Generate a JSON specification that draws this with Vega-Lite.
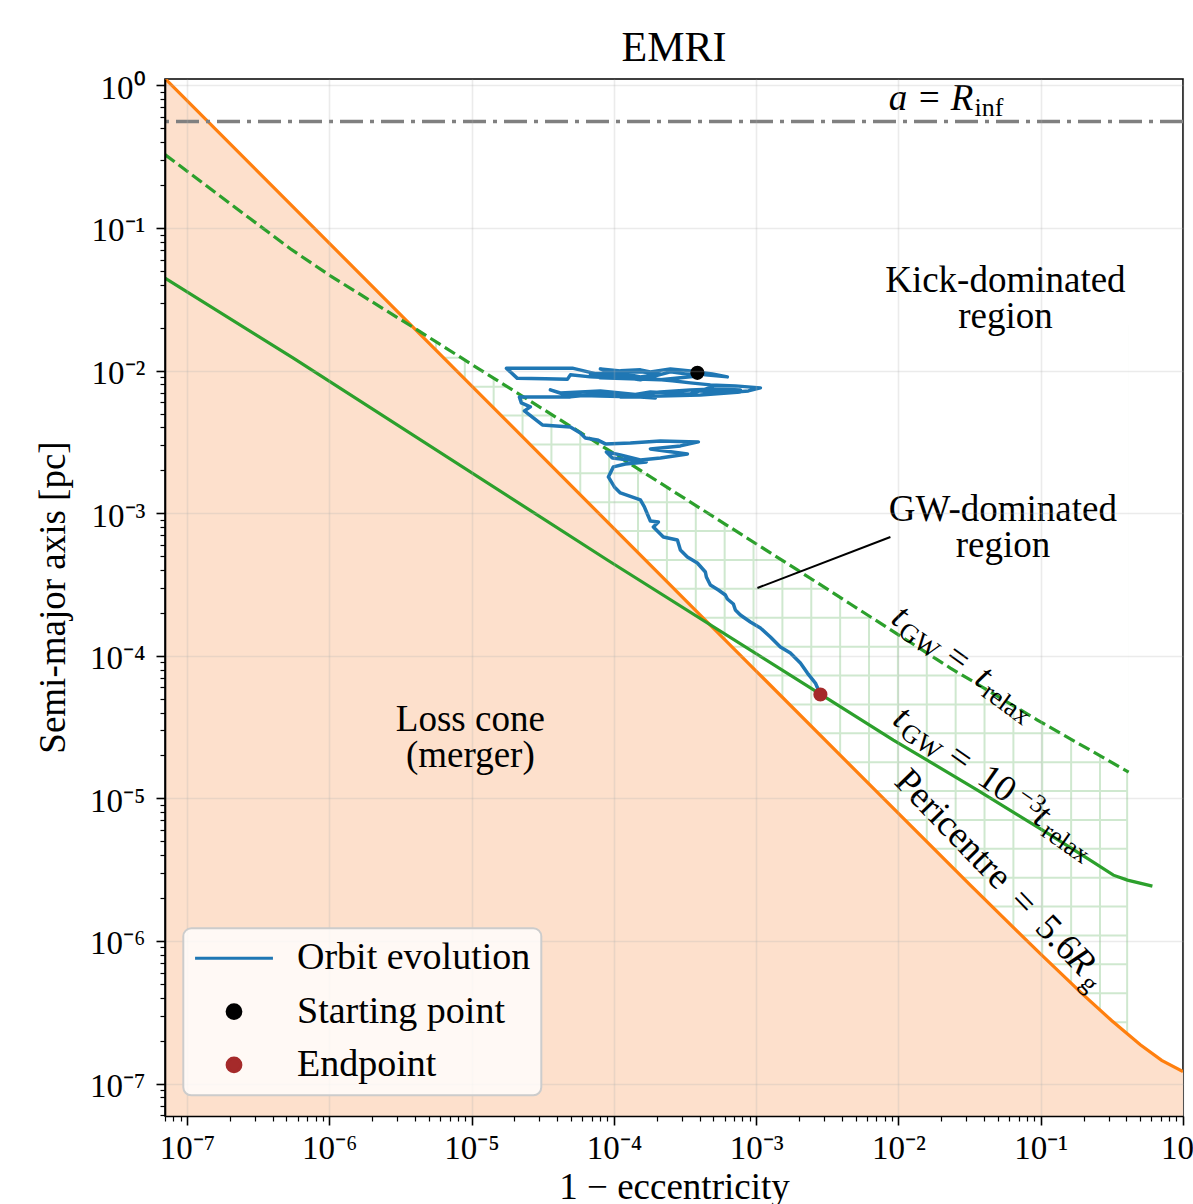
{
  "$schema": "https://vega.github.io/schema/vega-lite/v6.json",
  "width": 1018,
  "height": 1037,
  "autosize": "none",
  "padding": {"left": 165, "top": 79, "right": 10, "bottom": 88},
  "background": "white",
  "config": {
    "font": "Liberation Serif",
    "view": {"stroke": "black", "strokeWidth": 1.6}
  },
  "title": {"text": "EMRI", "font": "Liberation Serif", "fontSize": 42, "fontWeight": "normal", "color": "black", "anchor": "middle", "baseline": "alphabetic", "offset": 15, "dy": 46, "frame": "group"},
  "resolve": {"axis": {"x": "independent", "y": "independent"}},
  "datasets": {
    "hatchV": [{"x":3.518e-6},{"x":5.614e-6},{"x":8.958e-6},{"x":1.429e-5},{"x":2.281e-5},{"x":3.639e-5},{"x":5.806e-5},{"x":9.266e-5},{"x":1.478e-4},{"x":2.359e-4},{"x":3.764e-4},{"x":6.006e-4},{"x":9.583e-4},{"x":1.529e-3},{"x":2.440e-3},{"x":3.893e-3},{"x":6.213e-3},{"x":9.913e-3},{"x":1.582e-2},{"x":2.524e-2},{"x":4.027e-2},{"x":6.426e-2},{"x":1.025e-1},{"x":1.636e-1},{"x":2.610e-1},{"x":4.05e-1}],
    "hatchH": [{"y":1.961e-2},{"y":1.230e-2},{"y":7.714e-3},{"y":4.838e-3},{"y":3.034e-3},{"y":1.904e-3},{"y":1.194e-3},{"y":7.488e-4},{"y":4.697e-4},{"y":2.946e-4},{"y":1.848e-4},{"y":1.159e-4},{"y":7.269e-5},{"y":4.559e-5},{"y":2.860e-5},{"y":1.794e-5},{"y":1.125e-5},{"y":7.056e-6},{"y":4.426e-6},{"y":2.776e-6},{"y":1.741e-6},{"y":1.092e-6},{"y":6.850e-7},{"y":4.297e-7},{"y":2.695e-7}],
    "orange": [{"x":7.0e-8,"y":1.117},{"x":1e-5,"y":7.816e-3},{"x":1e-3,"y":7.816e-5},{"x":1e-2,"y":7.834e-6},{"x":3.162e-2,"y":2.495e-6},{"x":0.1,"y":8.072e-7},{"x":0.1995,"y":4.188e-7},{"x":0.3162,"y":2.754e-7},{"x":0.5012,"y":1.871e-7},{"x":0.7079,"y":1.454e-7},{"x":1.0,"y":1.211e-7}],
    "dashed": [{"x":7.0e-8,"y":0.327},{"x":2.786e-7,"y":0.116},{"x":5.322e-7,"y":7.146e-2},{"x":1.017e-6,"y":4.619e-2},{"x":3.833e-6,"y":2.027e-2},{"x":1.152e-5,"y":1.012e-2},{"x":9.0e-5,"y":2.8e-3},{"x":1.949e-3,"y":3.997e-4},{"x":4.595e-3,"y":2.307e-4},{"x":2.318e-2,"y":8.204e-5},{"x":9.478e-2,"y":3.54e-5},{"x":0.415,"y":1.529e-5}],
    "solid": [{"x":7.0e-8,"y":4.451e-2},{"x":5.587e-7,"y":1.222e-2},{"x":9.0e-5,"y":4.697e-4},{"x":2.828e-3,"y":5.389e-5},{"x":9.215e-3,"y":2.564e-5},{"x":3.589e-2,"y":1.143e-5},{"x":0.1114,"y":5.705e-6},{"x":0.2062,"y":3.871e-6},{"x":0.3243,"y":2.894e-6},{"x":0.4068,"y":2.67e-6},{"x":0.6095,"y":2.423e-6}],
    "orbit": [
      {"i":0,"x":3.862e-4,"y":9.638e-3},{"i":1,"x":4.396e-4,"y":9.333e-3},{"i":2,"x":6.276e-4,"y":9.035e-3},{"i":3,"x":4.923e-4,"y":9.484e-3},{"i":4,"x":3.449e-4,"y":9.954e-3},
      {"i":5,"x":2.495e-4,"y":1.028e-2},{"i":6,"x":1.805e-4,"y":9.795e-3},{"i":7,"x":1.536e-4,"y":1.0116e-2},{"i":8,"x":1.111e-4,"y":9.954e-3},{"i":9,"x":8.037e-5,"y":1.028e-2},
      {"i":9.1,"x":1.024e-4,"y":9.333e-3},{"i":9.2,"x":1.536e-4,"y":9.035e-3},{"i":9.3,"x":2.123e-4,"y":9.484e-3},{"i":9.4,"x":1.536e-4,"y":9.795e-3},{"i":9.5,"x":1.024e-4,"y":9.638e-3},{"i":9.6,"x":6.837e-5,"y":9.484e-3},
      {"i":9.61,"x":8.037e-5,"y":8.891e-3},{"i":9.62,"x":2.123e-4,"y":8.609e-3},{"i":9.63,"x":4.055e-4,"y":9.183e-3},{"i":9.64,"x":2.495e-4,"y":9.795e-3},{"i":9.65,"x":1.536e-4,"y":8.609e-3},{"i":9.66,"x":8.037e-5,"y":9.333e-3},
      {"i":10,"x":5.108e-5,"y":1.040e-2},{"i":11,"x":3.042e-5,"y":1.040e-2},{"i":12,"x":1.755e-5,"y":1.040e-2},{"i":13,"x":2.097e-5,"y":8.820e-3},{"i":14,"x":3.299e-5,"y":8.749e-3},
      {"i":15,"x":4.711e-5,"y":8.679e-3},{"i":16,"x":4.945e-5,"y":9.333e-3},{"i":17,"x":6.837e-5,"y":9.035e-3},{"i":18,"x":9.448e-5,"y":8.891e-3},{"i":19,"x":1.306e-4,"y":9.333e-3},
      {"i":20,"x":1.805e-4,"y":8.749e-3},{"i":21,"x":2.578e-4,"y":8.471e-3},{"i":22,"x":3.449e-4,"y":8.201e-3},{"i":23,"x":4.766e-4,"y":7.939e-3},{"i":24,"x":7.145e-4,"y":7.812e-3},
      {"i":25,"x":1.071e-3,"y":7.564e-3},
      {"i":25.1,"x":8.816e-4,"y":7.205e-3},{"i":25.2,"x":6.076e-4,"y":6.977e-3},{"i":25.3,"x":4.055e-4,"y":7.205e-3},{"i":25.4,"x":4.923e-4,"y":7.687e-3},
      {"i":25.5,"x":3.449e-4,"y":6.865e-3},{"i":25.51,"x":1.805e-4,"y":7.090e-3},{"i":25.52,"x":1.111e-4,"y":6.540e-3},{"i":25.53,"x":2.123e-4,"y":6.646e-3},{"i":25.54,"x":4.055e-4,"y":6.754e-3},{"i":25.55,"x":7.745e-4,"y":7.090e-3},
      {"i":26,"x":7.745e-4,"y":7.322e-3},{"i":27,"x":5.168e-4,"y":7.441e-3},{"i":28,"x":3.449e-4,"y":7.322e-3},{"i":29,"x":2.123e-4,"y":7.090e-3},
      {"i":30,"x":1.536e-4,"y":6.754e-3},{"i":31,"x":1.111e-4,"y":6.977e-3},{"i":32,"x":8.037e-5,"y":7.205e-3},{"i":33,"x":5.813e-5,"y":7.090e-3},{"i":34,"x":4.207e-5,"y":6.977e-3},
      {"i":35,"x":3.577e-5,"y":7.322e-3},{"i":36,"x":4.561e-5,"y":6.754e-3},{"i":37,"x":8.037e-5,"y":6.646e-3},{"i":38,"x":1.536e-4,"y":6.540e-3},{"i":39,"x":1.957e-4,"y":6.435e-3},
      {"i":40,"x":1.306e-4,"y":6.646e-3},{"i":41,"x":8.037e-5,"y":6.865e-3},{"i":42,"x":4.945e-5,"y":6.540e-3},{"i":43,"x":3.577e-5,"y":6.540e-3},{"i":44,"x":2.166e-5,"y":6.540e-3},
      {"i":45,"x":2.237e-5,"y":5.935e-3},{"i":46,"x":2.588e-5,"y":5.565e-3},{"i":47,"x":2.349e-5,"y":5.217e-3},{"i":48,"x":3.143e-5,"y":4.160e-3},{"i":49,"x":4.945e-5,"y":4.029e-3},
      {"i":50,"x":5.813e-5,"y":3.656e-3},{"i":51,"x":6.304e-5,"y":3.372e-3},{"i":52,"x":7.656e-5,"y":3.265e-3},{"i":53,"x":8.716e-5,"y":3.060e-3},{"i":54,"x":1.306e-4,"y":3.110e-3},
      {"i":55,"x":2.123e-4,"y":3.213e-3},{"i":56,"x":3.925e-4,"y":3.161e-3},{"i":57,"x":2.934e-4,"y":2.963e-3},{"i":58,"x":1.805e-4,"y":2.823e-3},{"i":59,"x":3.286e-4,"y":2.604e-3},
      {"i":60,"x":2.123e-4,"y":2.440e-3},{"i":61,"x":1.536e-4,"y":2.363e-3},{"i":62,"x":1.111e-4,"y":2.563e-3},{"i":63,"x":8.858e-5,"y":2.689e-3},{"i":64,"x":9.759e-5,"y":2.440e-3},
      {"i":65,"x":1.692e-4,"y":2.288e-3},{"i":66,"x":1.204e-4,"y":2.215e-3},{"i":67,"x":9.918e-5,"y":2.111e-3},{"i":68,"x":9.147e-5,"y":1.796e-3},{"i":69,"x":1.008e-4,"y":1.528e-3},
      {"i":70,"x":1.111e-4,"y":1.387e-3},{"i":71,"x":1.536e-4,"y":1.238e-3},{"i":72,"x":1.638e-4,"y":1.106e-3},{"i":73,"x":1.719e-4,"y":9.877e-4},{"i":74,"x":1.805e-4,"y":8.820e-4},
      {"i":75,"x":2.055e-4,"y":8.679e-4},{"i":76,"x":1.895e-4,"y":8.007e-4},{"i":77,"x":2.228e-4,"y":6.810e-4},{"i":78,"x":2.795e-4,"y":6.488e-4},{"i":79,"x":2.934e-4,"y":5.521e-4},
      {"i":80,"x":3.286e-4,"y":4.931e-4},{"i":81,"x":3.862e-4,"y":4.474e-4},{"i":82,"x":4.396e-4,"y":3.869e-4},{"i":83,"x":4.468e-4,"y":3.568e-4},{"i":84,"x":4.766e-4,"y":3.136e-4},
      {"i":85,"x":5.425e-4,"y":2.893e-4},{"i":86,"x":6.076e-4,"y":2.669e-4},{"i":87,"x":6.276e-4,"y":2.502e-4},{"i":88,"x":6.917e-4,"y":2.307e-4},{"i":89,"x":7.145e-4,"y":2.094e-4},
      {"i":90,"x":7.745e-4,"y":1.932e-4},{"i":91,"x":9.107e-4,"y":1.725e-4},{"i":92,"x":1.071e-3,"y":1.566e-4},{"i":93,"x":1.259e-3,"y":1.354e-4},{"i":94,"x":1.480e-3,"y":1.152e-4},
      {"i":95,"x":1.740e-3,"y":1.045e-4},{"i":96,"x":2.046e-3,"y":8.892e-5},{"i":97,"x":2.292e-3,"y":7.566e-5},{"i":98,"x":2.608e-3,"y":6.437e-5},{"i":99,"x":2.828e-3,"y":5.346e-5}
    ],
    "start": [{"x":3.862e-4,"y":9.638e-3}],
    "end": [{"x":2.828e-3,"y":5.346e-5}],
    "pointer": [{"x":1.020e-3,"y":2.988e-4,"x2":8.780e-3,"y2":6.810e-4}],
    "texts": [
      {"g":"ann","label":"Kick-dominated\nregion","x":5.647e-2,"y":3.567e-2},
      {"g":"ann","label":"GW-dominated\nregion","x":5.423e-2,"y":8.820e-4},
      {"g":"ann","label":"Loss cone\n(merger)","x":9.801e-6,"y":2.964e-5},
      {"g":"rit","label":"a = R","x":3.363e-2,"y":0.6677},
      {"g":"rsb","label":"inf","x":3.419e-2,"y":0.6058},
      {"g":"l1it","label":"t","x":8.640e-3,"y":1.734e-4},
      {"g":"l1it","label":"t","x":3.337e-2,"y":6.501e-5},
      {"g":"l1rm","label":"=","x":2.057e-2,"y":9.231e-5},
      {"g":"l1sb","label":"GW","x":9.739e-3,"y":1.409e-4},
      {"g":"l1sb","label":"relax","x":3.767e-2,"y":5.286e-5},
      {"g":"l2it","label":"t","x":8.851e-3,"y":3.374e-5},
      {"g":"l2it","label":"t","x":8.654e-2,"y":6.846e-6},
      {"g":"l2rm","label":"=","x":2.131e-2,"y":1.826e-5},
      {"g":"l2rm","label":"10","x":3.474e-2,"y":1.296e-5},
      {"g":"l2sb","label":"GW","x":1.001e-2,"y":2.748e-5},
      {"g":"l2sb","label":"−3","x":6.723e-2,"y":9.944e-6},
      {"g":"l2sb","label":"relax","x":9.852e-2,"y":5.560e-6},
      {"g":"l3rm","label":"Pericentre","x":9.143e-3,"y":1.280e-5},
      {"g":"l3rm","label":"=","x":5.888e-2,"y":1.865e-6},
      {"g":"l3rm","label":"5.6","x":8.925e-2,"y":1.215e-6},
      {"g":"l3it","label":"R","x":0.1474,"y":7.224e-7},
      {"g":"l3sb","label":"g","x":0.1855,"y":4.956e-7}
    ]
  },
  "layer": [
    {
      "data": {"name": "hatchV"},
      "mark": {"type": "rule", "color": "#cfe8cf", "strokeWidth": 2, "clip": true},
      "encoding": {
        "x": {"field": "x", "type": "quantitative", "scale": {"type": "log", "domain": [7e-8, 1], "nice": false}, "axis": null},
        "y": {"datum": 1.9e-7, "type": "quantitative", "scale": {"type": "log", "domain": [5.92e-8, 1.109], "nice": false}, "axis": null},
        "y2": {"datum": 2.1e-2}
      }
    },
    {
      "data": {"name": "hatchH"},
      "mark": {"type": "rule", "color": "#cfe8cf", "strokeWidth": 2, "clip": true},
      "encoding": {
        "y": {"field": "y", "type": "quantitative", "scale": {"type": "log", "domain": [5.92e-8, 1.109], "nice": false}, "axis": null},
        "x": {"datum": 3.5e-6, "type": "quantitative", "scale": {"type": "log", "domain": [7e-8, 1], "nice": false}, "axis": null},
        "x2": {"datum": 0.406}
      }
    },
    {
      "data": {"name": "dashed"},
      "transform": [{"filter": "datum.x >= 3.8e-6"}],
      "mark": {"type": "area", "color": "white", "opacity": 1, "clip": true},
      "encoding": {
        "x": {"field": "x", "type": "quantitative", "scale": {"type": "log", "domain": [7e-8, 1], "nice": false}, "axis": null},
        "y": {"field": "y", "type": "quantitative", "scale": {"type": "log", "domain": [5.92e-8, 1.109], "nice": false}, "axis": null},
        "y2": {"datum": 0.025}
      }
    },
    {
      "data": {"name": "orange"},
      "mark": {"type": "area", "color": "#fde0cc", "opacity": 1, "clip": true},
      "encoding": {
        "x": {"field": "x", "type": "quantitative", "scale": {"type": "log", "domain": [7e-8, 1], "nice": false},
          "axis": {"orient": "bottom", "title": null, "labels": false, "domain": false, "grid": false, "tickSize": 5, "tickWidth": 1.2, "tickColor": "black", "zindex": 1,
            "values": [7e-8,8e-8,9e-8,2e-7,3e-7,4e-7,5e-7,6e-7,7e-7,8e-7,9e-7,2e-6,3e-6,4e-6,5e-6,6e-6,7e-6,8e-6,9e-6,2e-5,3e-5,4e-5,5e-5,6e-5,7e-5,8e-5,9e-5,2e-4,3e-4,4e-4,5e-4,6e-4,7e-4,8e-4,9e-4,2e-3,3e-3,4e-3,5e-3,6e-3,7e-3,8e-3,9e-3,2e-2,3e-2,4e-2,5e-2,6e-2,7e-2,8e-2,9e-2,0.2,0.3,0.4,0.5,0.6,0.7,0.8,0.9]}},
        "y": {"field": "y", "type": "quantitative", "scale": {"type": "log", "domain": [5.92e-8, 1.109], "nice": false},
          "axis": {"orient": "left", "title": null, "labels": false, "domain": false, "grid": false, "tickSize": 5, "tickWidth": 1.2, "tickColor": "black", "zindex": 1,
            "values": [6e-8,7e-8,8e-8,9e-8,2e-7,3e-7,4e-7,5e-7,6e-7,7e-7,8e-7,9e-7,2e-6,3e-6,4e-6,5e-6,6e-6,7e-6,8e-6,9e-6,2e-5,3e-5,4e-5,5e-5,6e-5,7e-5,8e-5,9e-5,2e-4,3e-4,4e-4,5e-4,6e-4,7e-4,8e-4,9e-4,2e-3,3e-3,4e-3,5e-3,6e-3,7e-3,8e-3,9e-3,2e-2,3e-2,4e-2,5e-2,6e-2,7e-2,8e-2,9e-2,0.2,0.3,0.4,0.5,0.6,0.7,0.8,0.9]}},
        "y2": {"datum": 5.92e-8}
      }
    },
    {
      "data": {"name": "orange"},
      "mark": {"type": "line", "color": "#ff7f0e", "strokeWidth": 3.2, "clip": true},
      "encoding": {
        "x": {"field": "x", "type": "quantitative", "scale": {"type": "log", "domain": [7e-8, 1], "nice": false},
          "axis": {
            "orient": "bottom",
            "title": "1 − eccentricity", "titleFont": "Liberation Serif", "titleFontSize": 37, "titleFontWeight": "normal", "titleColor": "black",
            "titleX": 509, "titleY": 82.5, "titleBaseline": "alphabetic", "titleAlign": "center",
            "values": [1e-7,1e-6,1e-5,1e-4,1e-3,1e-2,0.1,1],
            "labelExpr": "'10' + (round(log(datum.value)/LN10) < 0 ? '⁻' : '') + ['⁰','¹','²','³','⁴','⁵','⁶','⁷','⁸','⁹'][abs(round(log(datum.value)/LN10))]",
            "labelFont": "Liberation Serif", "labelFontSize": 33, "labelColor": "black", "labelOverlap": false, "labelFlush": false, "labelBound": false, "labelPadding": 7,
            "tickSize": 9, "tickWidth": 1.6, "tickColor": "black",
            "grid": true, "gridColor": "#b0b0b0", "gridWidth": 1.6, "gridOpacity": 0.25,
            "domainColor": "black", "domainWidth": 1.6, "zindex": 1
          }
        },
        "y": {"field": "y", "type": "quantitative", "scale": {"type": "log", "domain": [5.92e-8, 1.109], "nice": false},
          "axis": {
            "orient": "left",
            "title": "Semi-major axis [pc]", "titleFont": "Liberation Serif", "titleFontSize": 37, "titleFontWeight": "normal", "titleColor": "black",
            "titleX": -101, "titleY": 518, "titleAngle": -90, "titleBaseline": "alphabetic", "titleAlign": "center",
            "values": [1e-7,1e-6,1e-5,1e-4,1e-3,1e-2,0.1,1],
            "labelExpr": "'10' + (round(log(datum.value)/LN10) < 0 ? '⁻' : '') + ['⁰','¹','²','³','⁴','⁵','⁶','⁷','⁸','⁹'][abs(round(log(datum.value)/LN10))]",
            "labelFont": "Liberation Serif", "labelFontSize": 33, "labelColor": "black", "labelOverlap": false, "labelFlush": false, "labelBound": false, "labelPadding": 11, "labelOffset": 3,
            "tickSize": 9, "tickWidth": 1.6, "tickColor": "black",
            "grid": true, "gridColor": "#b0b0b0", "gridWidth": 1.6, "gridOpacity": 0.25,
            "domainColor": "black", "domainWidth": 1.6, "zindex": 1
          }
        }
      }
    },
    {
      "data": {"name": "dashed"},
      "mark": {"type": "line", "color": "#2ca02c", "strokeWidth": 3.2, "strokeDash": [12, 5], "clip": true},
      "encoding": {
        "x": {"field": "x", "type": "quantitative", "scale": {"type": "log", "domain": [7e-8, 1], "nice": false}, "axis": null},
        "y": {"field": "y", "type": "quantitative", "scale": {"type": "log", "domain": [5.92e-8, 1.109], "nice": false}, "axis": null}
      }
    },
    {
      "data": {"name": "solid"},
      "mark": {"type": "line", "color": "#2ca02c", "strokeWidth": 3.2, "clip": true},
      "encoding": {
        "x": {"field": "x", "type": "quantitative", "scale": {"type": "log", "domain": [7e-8, 1], "nice": false}, "axis": null},
        "y": {"field": "y", "type": "quantitative", "scale": {"type": "log", "domain": [5.92e-8, 1.109], "nice": false}, "axis": null}
      }
    },
    {
      "data": {"values": [{}]},
      "mark": {"type": "rule", "color": "#808080", "strokeWidth": 3.5, "strokeDash": [23, 7, 4, 7]},
      "encoding": {
        "y": {"datum": 0.5588, "type": "quantitative", "scale": {"type": "log", "domain": [5.92e-8, 1.109], "nice": false}, "axis": null}
      }
    },
    {
      "data": {"name": "pointer"},
      "mark": {"type": "rule", "color": "black", "strokeWidth": 2},
      "encoding": {
        "x": {"field": "x", "type": "quantitative", "scale": {"type": "log", "domain": [7e-8, 1], "nice": false}, "axis": null},
        "y": {"field": "y", "type": "quantitative", "scale": {"type": "log", "domain": [5.92e-8, 1.109], "nice": false}, "axis": null},
        "x2": {"field": "x2"},
        "y2": {"field": "y2"}
      }
    },
    {
      "data": {"name": "orbit"},
      "mark": {"type": "line", "strokeWidth": 3.5, "strokeJoin": "round", "clip": true},
      "encoding": {
        "x": {"field": "x", "type": "quantitative", "scale": {"type": "log", "domain": [7e-8, 1], "nice": false}, "axis": null},
        "y": {"field": "y", "type": "quantitative", "scale": {"type": "log", "domain": [5.92e-8, 1.109], "nice": false}, "axis": null},
        "order": {"field": "i", "type": "quantitative"},
        "color": {"datum": "Orbit evolution", "type": "nominal",
          "scale": {"domain": ["Orbit evolution", "Starting point", "Endpoint"], "range": ["#1f77b4", "black", "#a52a2a"]},
          "legend": {
            "title": null, "orient": "none", "legendX": 18.3, "legendY": 849.3, "direction": "vertical", "zindex": 2,
            "fillColor": "rgba(255,255,255,0.8)", "strokeColor": "#cccccc", "cornerRadius": 8, "padding": 11,
            "labelFont": "Liberation Serif", "labelFontSize": 38, "labelColor": "black", "labelLimit": 500,
            "symbolSize": 190, "symbolStrokeWidth": 3, "symbolOffset": 20.7, "labelOffset": 44, "rowPadding": 15.3,
            "encode": {
              "legend": {"update": {"strokeWidth": {"value": 2}}},
              "symbols": {"update": {
                "shape": {"signal": "datum.value === 'Orbit evolution' ? 'M-5.65,0H5.65' : 'circle'"},
                "fill": {"signal": "datum.value === 'Starting point' ? 'black' : (datum.value === 'Endpoint' ? '#a52a2a' : 'transparent')"},
                "stroke": {"signal": "datum.value === 'Orbit evolution' ? '#1f77b4' : 'transparent'"},
                "strokeWidth": {"value": 3},
                "size": {"value": 190},
                "opacity": {"value": 1}
              }}
            }
          }
        }
      }
    },
    {
      "data": {"name": "start"},
      "mark": {"type": "point", "filled": true, "size": 200, "opacity": 1, "shape": "circle"},
      "encoding": {
        "x": {"field": "x", "type": "quantitative", "scale": {"type": "log", "domain": [7e-8, 1], "nice": false}, "axis": null},
        "y": {"field": "y", "type": "quantitative", "scale": {"type": "log", "domain": [5.92e-8, 1.109], "nice": false}, "axis": null},
        "color": {"datum": "Starting point", "type": "nominal", "scale": {"domain": ["Orbit evolution", "Starting point", "Endpoint"], "range": ["#1f77b4", "black", "#a52a2a"]}, "legend": null}
      }
    },
    {
      "data": {"name": "end"},
      "mark": {"type": "point", "filled": true, "size": 200, "opacity": 1, "shape": "circle"},
      "encoding": {
        "x": {"field": "x", "type": "quantitative", "scale": {"type": "log", "domain": [7e-8, 1], "nice": false}, "axis": null},
        "y": {"field": "y", "type": "quantitative", "scale": {"type": "log", "domain": [5.92e-8, 1.109], "nice": false}, "axis": null},
        "color": {"datum": "Endpoint", "type": "nominal", "scale": {"domain": ["Orbit evolution", "Starting point", "Endpoint"], "range": ["#1f77b4", "black", "#a52a2a"]}, "legend": null}
      }
    },
    {
      "data": {"name": "texts"},
      "transform": [{"filter": "datum.g === 'ann'"}],
      "mark": {"type": "text", "font": "Liberation Serif", "fontSize": 37, "align": "center", "baseline": "alphabetic", "lineBreak": "\n", "lineHeight": 36, "color": "black"},
      "encoding": {
        "x": {"field": "x", "type": "quantitative", "scale": {"type": "log", "domain": [7e-8, 1], "nice": false}, "axis": null},
        "y": {"field": "y", "type": "quantitative", "scale": {"type": "log", "domain": [5.92e-8, 1.109], "nice": false}, "axis": null},
        "text": {"field": "label"}
      }
    },
    {
      "data": {"name": "texts"},
      "transform": [{"filter": "datum.g === 'rit'"}],
      "mark": {"type": "text", "font": "Liberation Serif", "fontSize": 37, "fontStyle": "italic", "align": "right", "baseline": "alphabetic", "color": "black"},
      "encoding": {
        "x": {"field": "x", "type": "quantitative", "scale": {"type": "log", "domain": [7e-8, 1], "nice": false}, "axis": null},
        "y": {"field": "y", "type": "quantitative", "scale": {"type": "log", "domain": [5.92e-8, 1.109], "nice": false}, "axis": null},
        "text": {"field": "label"}
      }
    },
    {
      "data": {"name": "texts"},
      "transform": [{"filter": "datum.g === 'rsb'"}],
      "mark": {"type": "text", "font": "Liberation Serif", "fontSize": 26, "align": "left", "baseline": "alphabetic", "color": "black"},
      "encoding": {
        "x": {"field": "x", "type": "quantitative", "scale": {"type": "log", "domain": [7e-8, 1], "nice": false}, "axis": null},
        "y": {"field": "y", "type": "quantitative", "scale": {"type": "log", "domain": [5.92e-8, 1.109], "nice": false}, "axis": null},
        "text": {"field": "label"}
      }
    },
    {
      "data": {"name": "texts"},
      "transform": [{"filter": "datum.g === 'l1it'"}],
      "mark": {"type": "text", "font": "Liberation Serif", "fontSize": 37, "fontStyle": "italic", "angle": 36, "align": "left", "baseline": "alphabetic", "color": "black"},
      "encoding": {
        "x": {"field": "x", "type": "quantitative", "scale": {"type": "log", "domain": [7e-8, 1], "nice": false}, "axis": null},
        "y": {"field": "y", "type": "quantitative", "scale": {"type": "log", "domain": [5.92e-8, 1.109], "nice": false}, "axis": null},
        "text": {"field": "label"}
      }
    },
    {
      "data": {"name": "texts"},
      "transform": [{"filter": "datum.g === 'l1rm'"}],
      "mark": {"type": "text", "font": "Liberation Serif", "fontSize": 37, "angle": 36, "align": "left", "baseline": "alphabetic", "color": "black"},
      "encoding": {
        "x": {"field": "x", "type": "quantitative", "scale": {"type": "log", "domain": [7e-8, 1], "nice": false}, "axis": null},
        "y": {"field": "y", "type": "quantitative", "scale": {"type": "log", "domain": [5.92e-8, 1.109], "nice": false}, "axis": null},
        "text": {"field": "label"}
      }
    },
    {
      "data": {"name": "texts"},
      "transform": [{"filter": "datum.g === 'l1sb'"}],
      "mark": {"type": "text", "font": "Liberation Serif", "fontSize": 26, "angle": 36, "align": "left", "baseline": "alphabetic", "color": "black"},
      "encoding": {
        "x": {"field": "x", "type": "quantitative", "scale": {"type": "log", "domain": [7e-8, 1], "nice": false}, "axis": null},
        "y": {"field": "y", "type": "quantitative", "scale": {"type": "log", "domain": [5.92e-8, 1.109], "nice": false}, "axis": null},
        "text": {"field": "label"}
      }
    },
    {
      "data": {"name": "texts"},
      "transform": [{"filter": "datum.g === 'l2it'"}],
      "mark": {"type": "text", "font": "Liberation Serif", "fontSize": 37, "fontStyle": "italic", "angle": 35, "align": "left", "baseline": "alphabetic", "color": "black"},
      "encoding": {
        "x": {"field": "x", "type": "quantitative", "scale": {"type": "log", "domain": [7e-8, 1], "nice": false}, "axis": null},
        "y": {"field": "y", "type": "quantitative", "scale": {"type": "log", "domain": [5.92e-8, 1.109], "nice": false}, "axis": null},
        "text": {"field": "label"}
      }
    },
    {
      "data": {"name": "texts"},
      "transform": [{"filter": "datum.g === 'l2rm'"}],
      "mark": {"type": "text", "font": "Liberation Serif", "fontSize": 37, "angle": 35, "align": "left", "baseline": "alphabetic", "color": "black"},
      "encoding": {
        "x": {"field": "x", "type": "quantitative", "scale": {"type": "log", "domain": [7e-8, 1], "nice": false}, "axis": null},
        "y": {"field": "y", "type": "quantitative", "scale": {"type": "log", "domain": [5.92e-8, 1.109], "nice": false}, "axis": null},
        "text": {"field": "label"}
      }
    },
    {
      "data": {"name": "texts"},
      "transform": [{"filter": "datum.g === 'l2sb'"}],
      "mark": {"type": "text", "font": "Liberation Serif", "fontSize": 26, "angle": 35, "align": "left", "baseline": "alphabetic", "color": "black"},
      "encoding": {
        "x": {"field": "x", "type": "quantitative", "scale": {"type": "log", "domain": [7e-8, 1], "nice": false}, "axis": null},
        "y": {"field": "y", "type": "quantitative", "scale": {"type": "log", "domain": [5.92e-8, 1.109], "nice": false}, "axis": null},
        "text": {"field": "label"}
      }
    },
    {
      "data": {"name": "texts"},
      "transform": [{"filter": "datum.g === 'l3rm'"}],
      "mark": {"type": "text", "font": "Liberation Serif", "fontSize": 37, "angle": 46, "align": "left", "baseline": "alphabetic", "color": "black"},
      "encoding": {
        "x": {"field": "x", "type": "quantitative", "scale": {"type": "log", "domain": [7e-8, 1], "nice": false}, "axis": null},
        "y": {"field": "y", "type": "quantitative", "scale": {"type": "log", "domain": [5.92e-8, 1.109], "nice": false}, "axis": null},
        "text": {"field": "label"}
      }
    },
    {
      "data": {"name": "texts"},
      "transform": [{"filter": "datum.g === 'l3it'"}],
      "mark": {"type": "text", "font": "Liberation Serif", "fontSize": 37, "fontStyle": "italic", "angle": 46, "align": "left", "baseline": "alphabetic", "color": "black"},
      "encoding": {
        "x": {"field": "x", "type": "quantitative", "scale": {"type": "log", "domain": [7e-8, 1], "nice": false}, "axis": null},
        "y": {"field": "y", "type": "quantitative", "scale": {"type": "log", "domain": [5.92e-8, 1.109], "nice": false}, "axis": null},
        "text": {"field": "label"}
      }
    },
    {
      "data": {"name": "texts"},
      "transform": [{"filter": "datum.g === 'l3sb'"}],
      "mark": {"type": "text", "font": "Liberation Serif", "fontSize": 26, "angle": 46, "align": "left", "baseline": "alphabetic", "color": "black"},
      "encoding": {
        "x": {"field": "x", "type": "quantitative", "scale": {"type": "log", "domain": [7e-8, 1], "nice": false}, "axis": null},
        "y": {"field": "y", "type": "quantitative", "scale": {"type": "log", "domain": [5.92e-8, 1.109], "nice": false}, "axis": null},
        "text": {"field": "label"}
      }
    }
  ]
}
